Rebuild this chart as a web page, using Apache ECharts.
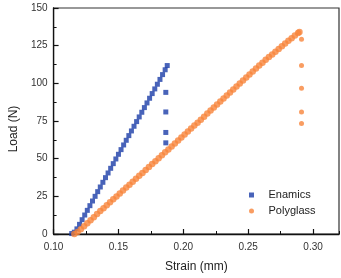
<!DOCTYPE html>
<html><head><meta charset="utf-8">
<script src="https://cdn.jsdelivr.net/npm/echarts@6/dist/echarts.min.js"></script>
<style>html,body{margin:0;padding:0;background:#fff}#c{width:341px;height:278px}</style>
</head><body><div id="c"></div>
<script>
var xTicks = [0.10, 0.15, 0.20, 0.25, 0.30];
var yTicks = [0, 25, 50, 75, 100, 125, 150];
var seriesNames = ['Enamics', 'Polyglass'];

var enamicsStrain = [0.1140,0.1160,0.1180,0.1200,0.1220,0.1240,0.1260,0.1280,0.1300,0.1320,0.1340,0.1360,0.1380,0.1400,0.1420,0.1440,0.1460,0.1480,0.1500,0.1520,0.1540,0.1560,0.1580,0.1600,0.1620,0.1640,0.1660,0.1680,0.1700,0.1720,0.1740,0.1760,0.1780,0.1800,0.1820,0.1840,0.1860,0.1876,
  0.1865,0.1865,0.1865,0.1865];
var enamicsLoad = [0.3,1.2,3.4,6.4,9.5,12.6,15.7,18.8,21.9,25.0,28.1,31.2,34.3,37.4,40.5,43.6,46.7,49.8,52.9,56.0,59.1,62.2,65.3,68.4,71.5,74.6,77.7,80.8,83.9,87.0,90.1,93.2,96.3,99.4,102.6,105.8,109.0,111.8,
  94.0,81.0,67.4,60.5];

var polyStrain = [0.1160,0.1185,0.1210,0.1235,0.1260,0.1285,0.1310,0.1335,0.1360,0.1385,0.1410,0.1435,0.1460,0.1485,0.1510,0.1535,0.1560,0.1585,0.1610,0.1635,0.1660,0.1685,0.1710,0.1735,0.1760,0.1785,0.1810,0.1835,0.1860,0.1885,0.1910,0.1935,0.1960,0.1985,0.2010,0.2035,0.2060,0.2085,0.2110,0.2135,0.2160,0.2185,0.2210,0.2235,0.2260,0.2285,0.2310,0.2335,0.2360,0.2385,0.2410,0.2435,0.2460,0.2485,0.2510,0.2535,0.2560,0.2585,0.2610,0.2635,0.2660,0.2685,0.2710,0.2735,0.2760,0.2785,0.2810,0.2835,0.2860,0.2885,0.2895,
  0.2911,0.2911,0.2911,0.2911,0.2911];
var polyLoad = [0,1.4,3.2,5.2,7.2,9.2,11.2,13.2,15.2,17.1,19.1,21.0,23.0,24.9,26.9,28.8,30.8,32.7,34.7,36.6,38.6,40.5,42.5,44.4,46.4,48.3,50.3,52.2,54.2,56.1,58.1,60.1,62.0,64.0,66.0,68.0,70.0,72.0,73.9,75.9,77.9,79.9,81.9,83.9,85.9,87.9,89.9,91.9,93.9,95.9,97.9,99.9,101.9,103.9,105.9,107.9,109.9,111.8,113.7,115.6,117.4,119.2,121.0,122.8,124.6,126.4,128.2,130.0,131.7,133.4,134.0,
  129.2,111.8,96.7,80.9,73.3];
var polyCurveCount = 71;

function pairs(xs, ys){ return xs.map(function(x,i){ return [x, ys[i]]; }); }

var chart = echarts.init(document.getElementById('c'), null, {renderer:'canvas'});
var font = 'Liberation Sans, Arial, sans-serif';
chart.setOption({
  animation: false,
  backgroundColor: '#fff',
  grid: {left: 43, right: 2, top: 8, bottom: 39, show: true, borderColor: '#333', borderWidth: 1.2, backgroundColor: 'transparent'},
  legend: {
    data: [{name: seriesNames[0], icon: 'path://M0,0H10V10H0Z'}, {name: seriesNames[1], icon: 'circle'}],
    orient: 'vertical', left: 244, top: 184,
    itemWidth: 24, itemHeight: 5, itemGap: 4, symbolKeepAspect: true,
    textStyle: {fontFamily: font, fontSize: 11, color: '#222', lineHeight: 12}
  },
  xAxis: [{
    type: 'value', min: xTicks[0], max: 0.32, interval: 0.05,
    name: 'Strain (mm)', nameLocation: 'middle', nameGap: 27,
    nameTextStyle: {fontFamily: font, fontSize: 12, color: '#222'},
    axisLine: {show: true, lineStyle: {color: '#111', width: 1.3}},
    axisTick: {show: true, inside: true, length: 5, lineStyle: {color: '#111', width: 1.2}},
    axisLabel: {fontFamily: font, fontSize: 10, color: '#333', margin: 8, showMaxLabel: false,
      formatter: function(v){ return v.toFixed(2); }},
    splitLine: {show: false}
  },{
    type: 'value', min: xTicks[0], max: 0.32, interval: 0.025, position: 'bottom',
    axisLine: {show: false}, axisLabel: {show: false}, splitLine: {show: false},
    axisTick: {show: true, inside: true, length: 3, lineStyle: {color: '#111', width: 1}}
  }],
  yAxis: {
    type: 'value', min: yTicks[0], max: yTicks[yTicks.length-1], interval: 25,
    name: 'Load (N)', nameLocation: 'middle', nameGap: 33,
    nameTextStyle: {fontFamily: font, fontSize: 12, color: '#222', padding: [0, 16, 0, 0]},
    axisLine: {show: true, lineStyle: {color: '#111', width: 1.3}},
    axisTick: {show: true, inside: true, length: 5, lineStyle: {color: '#111', width: 1.2}},
    minorTick: {show: true, splitNumber: 2, length: 3, lineStyle: {color: '#111', width: 1}},
    axisLabel: {fontFamily: font, fontSize: 10, color: '#333', margin: 6},
    splitLine: {show: false}
  },
  series: [{
    name: seriesNames[0], type: 'scatter', symbol: 'rect', symbolSize: 5,
    itemStyle: {color: '#1a3ca8'}, data: pairs(enamicsStrain, enamicsLoad)
  },{
    name: seriesNames[1], type: 'scatter', symbol: 'circle',
    symbolSize: function(v, p){ return p.dataIndex < polyCurveCount ? 6.5 : 5; },
    itemStyle: {color: '#f7853b'}, data: pairs(polyStrain, polyLoad)
  }]
});
</script></body></html>
